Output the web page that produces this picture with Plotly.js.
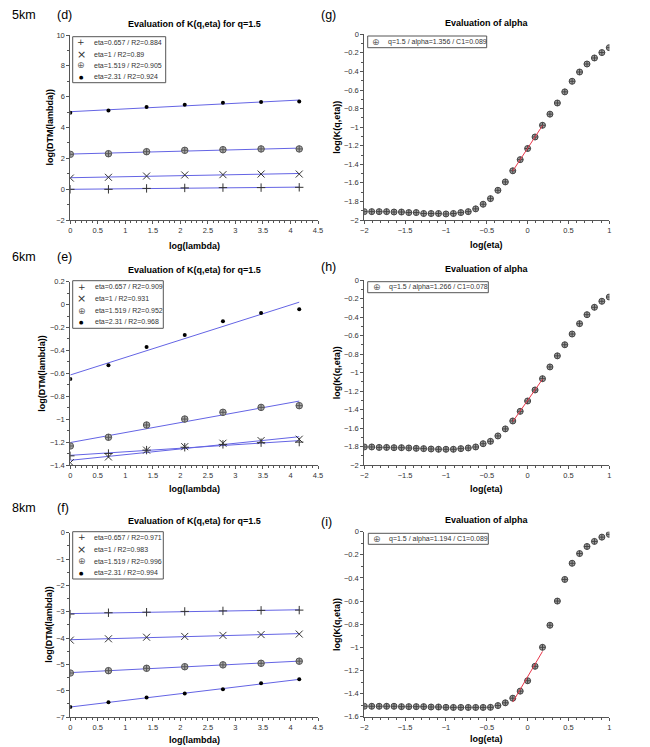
<!DOCTYPE html>
<html><head><meta charset="utf-8">
<script src="https://cdn.plot.ly/plotly-3.0.1.min.js"></script>
<style>html,body{margin:0;padding:0;background:#fff;}#chart{width:650px;height:747px;}</style>
</head><body><div id="chart"></div>
<script>
// ---------- data ----------
const logLambda = [0, 0.693, 1.386, 2.079, 2.773, 3.466, 4.159];
const etaLabels = ['eta=0.657', 'eta=1', 'eta=1.519', 'eta=2.31'];

// 5 km
const dtm5_eta0657 = [-0.01, -0.01, 0.05, 0.08, 0.10, 0.10, 0.12];
const dtm5_eta1    = [0.72, 0.77, 0.85, 0.92, 0.94, 0.98, 0.98];
const dtm5_eta1519 = [2.26, 2.30, 2.43, 2.52, 2.56, 2.61, 2.61];
const dtm5_eta231  = [4.96, 5.11, 5.33, 5.48, 5.61, 5.65, 5.68];
const r2_5km = ['0.884', '0.89', '0.905', '0.924'];

// 6 km
const dtm6_eta0657 = [-1.32, -1.30, -1.27, -1.245, -1.22, -1.205, -1.20];
const dtm6_eta1    = [-1.38, -1.33, -1.27, -1.24, -1.21, -1.187, -1.175];
const dtm6_eta1519 = [-1.234, -1.158, -1.051, -0.999, -0.940, -0.897, -0.882];
const dtm6_eta231  = [-0.65, -0.53, -0.37, -0.265, -0.146, -0.073, -0.041];
const r2_6km = ['0.909', '0.931', '0.952', '0.968'];

// 8 km
const dtm8_eta0657 = [-3.09, -3.04, -3.02, -2.99, -2.97, -2.95, -2.94];
const dtm8_eta1    = [-4.08, -4.03, -3.97, -3.94, -3.90, -3.87, -3.85];
const dtm8_eta1519 = [-5.33, -5.24, -5.15, -5.09, -5.02, -4.96, -4.88];
const dtm8_eta231  = [-6.62, -6.44, -6.26, -6.11, -5.95, -5.72, -5.57];
const r2_8km = ['0.971', '0.983', '0.996', '0.994'];

// alpha evaluation
const logEta = [-2, -1.909, -1.818, -1.727, -1.636, -1.545, -1.455, -1.364, -1.273, -1.182,
  -1.091, -1, -0.909, -0.818, -0.727, -0.636, -0.545, -0.455, -0.364, -0.273,
  -0.182, -0.091, 0, 0.091, 0.182, 0.273, 0.364, 0.455, 0.545, 0.636,
  0.727, 0.818, 0.909, 1];
const logK5 = [-1.91, -1.91, -1.91, -1.91, -1.914, -1.914, -1.92, -1.92, -1.93, -1.93,
  -1.93, -1.935, -1.93, -1.92, -1.91, -1.88, -1.83, -1.77, -1.68, -1.59,
  -1.47, -1.35, -1.23, -1.106, -0.98, -0.86, -0.74, -0.62, -0.506, -0.406,
  -0.32, -0.255, -0.197, -0.144];
const logK6 = [-1.805, -1.805, -1.81, -1.81, -1.813, -1.813, -1.816, -1.82, -1.823, -1.827,
  -1.83, -1.83, -1.83, -1.823, -1.816, -1.805, -1.77, -1.744, -1.686, -1.61,
  -1.524, -1.42, -1.308, -1.189, -1.067, -0.94, -0.82, -0.70, -0.584, -0.472,
  -0.375, -0.295, -0.23, -0.184];
const logK8 = [-1.51, -1.51, -1.51, -1.51, -1.51, -1.513, -1.513, -1.513, -1.513, -1.516,
  -1.516, -1.519, -1.52, -1.52, -1.52, -1.52, -1.52, -1.519, -1.504, -1.48,
  -1.44, -1.379, -1.289, -1.164, -1.00, -0.809, -0.60, -0.413, -0.273, -0.189,
  -0.128, -0.084, -0.047, -0.023];
const alphaFitRange = [-0.19, 0.19];
const alphaValues = ['1.356', '1.266', '1.194'];
const c1Values = ['0.089', '0.078', '0.089'];
const kmLabels = ['5km', '6km', '8km'];
const leftLetters = ['(d)', '(e)', '(f)'];
const rightLetters = ['(g)', '(h)', '(i)'];

// ---------- helpers ----------
const W = 650, H = 747;
const FONT = 'Liberation Sans, Arial, sans-serif';
const px = v => v / W;
const py = v => 1 - v / H;
const AXC = '#555';

function linfit(xs, ys) {
  const n = xs.length;
  const mx = xs.reduce((a, b) => a + b, 0) / n;
  const my = ys.reduce((a, b) => a + b, 0) / n;
  let sxy = 0, sxx = 0;
  for (let i = 0; i < n; i++) { sxy += (xs[i] - mx) * (ys[i] - my); sxx += (xs[i] - mx) ** 2; }
  const b = sxy / sxx;
  return { b: b, a: my - b * mx };
}

function axis(dom, range, dtick, minor, anchor) {
  return {
    domain: dom, range: range, anchor: anchor, dtick: dtick, tick0: 0,
    showline: true, linecolor: AXC, linewidth: 1, mirror: false,
    ticks: 'outside', ticklen: 3, tickwidth: 1, tickcolor: AXC,
    showgrid: false, zeroline: false, fixedrange: true,
    tickfont: { family: FONT, size: 7.5, color: '#333' },
    minor: { dtick: minor, tick0: 0, ticks: 'outside', ticklen: 2, tickcolor: AXC, showgrid: false }
  };
}

const markerStyles = [
  { symbol: 'cross-thin-open', size: 6, color: '#333', line: { color: '#333', width: 1 } },
  { symbol: 'x-thin-open', size: 7, color: '#333', line: { color: '#333', width: 1 } },
  { symbol: 'circle-cross', size: 6.5, color: '#aaa', line: { color: '#555', width: 1 } },
  { symbol: 'circle', size: 4, color: '#000', line: { width: 0 } }
];
const legendGlyphs = [
  { t: '+', c: '#333', s: 9 },
  { t: '×', c: '#333', s: 11 },
  { t: '⊕', c: '#666', s: 9 },
  { t: '●', c: '#000', s: 5 }
];
const BLUE = 'rgb(100,100,228)';
const RED = 'rgb(232,55,75)';

const traces = [];
const shapes = [];
const annotations = [];

function txt(text, x, y, size, opts) {
  annotations.push(Object.assign({
    text: text, x: px(x), y: py(y), xref: 'paper', yref: 'paper',
    showarrow: false, xanchor: 'center', yanchor: 'middle',
    font: { family: FONT, size: size, color: '#000' }
  }, opts || {}));
}

// ---------- K(q,eta) panels ----------
const kPanels = [
  { series: [dtm5_eta0657, dtm5_eta1, dtm5_eta1519, dtm5_eta231], r2: r2_5km, xa: 'x', ya: 'y',
    top: 35, bot: 220, range: [-2, 10], dtick: 2, minor: 1,
    leg: { x0: 72.7, x1: 165.7, y0: 36.7, y1: 82.7, ys: [42.3, 54, 65.3, 77], sx: 81, tx: 91.7 },
    titleY: 24.3, xtY: 245.7, ytX: 49, labY: 15 },
  { series: [dtm6_eta0657, dtm6_eta1, dtm6_eta1519, dtm6_eta231], r2: r2_6km, xa: 'x3', ya: 'y3',
    top: 281.7, bot: 465, range: [-1.4, 0.2], dtick: 0.2, minor: 0.1,
    leg: { x0: 72.7, x1: 163.3, y0: 280.7, y1: 328.3, ys: [286.7, 298.7, 310.7, 321.7], sx: 81.7, tx: 92.7 },
    titleY: 270, xtY: 489.3, ytX: 42.5, labY: 257 },
  { series: [dtm8_eta0657, dtm8_eta1, dtm8_eta1519, dtm8_eta231], r2: r2_8km, xa: 'x5', ya: 'y5',
    top: 532.7, bot: 717, range: [-7, 0], dtick: 1, minor: 0.5,
    leg: { x0: 72.7, x1: 163.3, y0: 531.7, y1: 579, ys: [537.3, 549, 561, 572.7], sx: 81.7, tx: 91.7 },
    titleY: 520.7, xtY: 740, ytX: 49, labY: 507.5 }
];

const layout = {
  width: W, height: H, margin: { l: 0, r: 0, t: 0, b: 0 },
  paper_bgcolor: '#fff', plot_bgcolor: '#fff', showlegend: false,
  font: { family: FONT }
};

const KX0 = 70.3, KX1 = 318;
const AX0 = 364.3, AX1 = 609.3;

kPanels.forEach((p, idx) => {
  const xn = p.xa === 'x' ? 'xaxis' : 'xaxis' + p.xa.slice(1);
  const yn = p.ya === 'y' ? 'yaxis' : 'yaxis' + p.ya.slice(1);
  layout[xn] = axis([px(KX0), px(KX1)], [0, 4.5], 0.5, 0.1, p.ya);
  layout[yn] = axis([py(p.bot), py(p.top)], p.range, p.dtick, p.minor, p.xa);
  p.series.forEach((ys, i) => {
    const f = linfit(logLambda, ys);
    const x0 = logLambda[0], x1 = logLambda[logLambda.length - 1];
    traces.push({ type: 'scatter', mode: 'lines', x: [x0, x1], y: [f.a + f.b * x0, f.a + f.b * x1],
      xaxis: p.xa, yaxis: p.ya, line: { color: BLUE, width: 1 }, hoverinfo: 'skip' });
  });
  p.series.forEach((ys, i) => {
    traces.push({ type: 'scatter', mode: 'markers', x: logLambda, y: ys, name: etaLabels[i] + ' / R2=' + p.r2[i],
      xaxis: p.xa, yaxis: p.ya, marker: markerStyles[i], cliponaxis: true });
  });
  const L = p.leg;
  shapes.push({ type: 'rect', xref: 'paper', yref: 'paper', x0: px(L.x0), x1: px(L.x1), y0: py(L.y1), y1: py(L.y0),
    line: { color: '#555', width: 1 }, fillcolor: '#fff', layer: 'above' });
  L.ys.forEach((yy, i) => {
    const g = legendGlyphs[i];
    txt(g.t, L.sx, yy, g.s, { font: { family: 'DejaVu Sans, ' + FONT, size: g.s, color: g.c } });
    txt(etaLabels[i] + ' / R2=' + p.r2[i], L.tx, yy, 7, { xanchor: 'left', font: { family: FONT, size: 7, color: '#333' } });
  });
  txt('<b>Evaluation of K(q,eta) for q=1.5</b>', (KX0 + KX1) / 2, p.titleY, 9);
  txt('<b>log(lambda)</b>', (KX0 + KX1) / 2, p.xtY, 9);
  txt('<b>log(DTM(lambda))</b>', p.ytX, (p.top + p.bot) / 2, 9, { textangle: -90 });
  txt(kmLabels[idx], 10, p.labY, 12.5, { xanchor: 'left' });
  txt(leftLetters[idx], 55, p.labY, 12.5, { xanchor: 'left' });
});

// ---------- alpha panels ----------
const aPanels = [
  { y: logK5, xa: 'x2', ya: 'y2', top: 34.3, bot: 220, range: [-2, 0],
    leg: { x0: 367.7, x1: 486.7, y0: 36, y1: 47.7, ym: 41.7, sx: 376, tx: 386 },
    titleY: 23.3, xtY: 245, labY: 15 },
  { y: logK6, xa: 'x4', ya: 'y4', top: 280, bot: 465, range: [-2, 0],
    leg: { x0: 367.7, x1: 488.3, y0: 281.7, y1: 292.7, ym: 287, sx: 377.3, tx: 386.7 },
    titleY: 269, xtY: 489.3, labY: 267 },
  { y: logK8, xa: 'x6', ya: 'y6', top: 531.7, bot: 716.7, range: [-1.6, 0],
    leg: { x0: 368.3, x1: 488.3, y0: 533.3, y1: 544.3, ym: 538.8, sx: 377.3, tx: 386.7 },
    titleY: 520, xtY: 739.3, labY: 521.5 }
];

aPanels.forEach((p, idx) => {
  const xn = 'xaxis' + p.xa.slice(1);
  const yn = 'yaxis' + p.ya.slice(1);
  layout[xn] = axis([px(AX0), px(AX1)], [-2, 1], 0.5, 0.1, p.ya);
  layout[yn] = axis([py(p.bot), py(p.top)], p.range, 0.2, 0.1, p.xa);
  const fx = [], fy = [];
  logEta.forEach((x, i) => { if (x >= alphaFitRange[0] && x <= alphaFitRange[1]) { fx.push(x); fy.push(p.y[i]); } });
  const f = linfit(fx, fy);
  const label = 'q=1.5 / alpha=' + alphaValues[idx] + ' / C1=' + c1Values[idx];
  traces.push({ type: 'scatter', mode: 'markers', x: logEta, y: p.y, name: label, xaxis: p.xa, yaxis: p.ya,
    marker: { symbol: 'circle-cross', size: 6, color: '#a0a0a0', line: { color: '#444', width: 1 } }, cliponaxis: true });
  traces.push({ type: 'scatter', mode: 'lines', x: [fx[0], fx[fx.length - 1]],
    y: [f.a + f.b * fx[0], f.a + f.b * fx[fx.length - 1]], xaxis: p.xa, yaxis: p.ya,
    line: { color: RED, width: 1 }, hoverinfo: 'skip' });
  const L = p.leg;
  shapes.push({ type: 'rect', xref: 'paper', yref: 'paper', x0: px(L.x0), x1: px(L.x1), y0: py(L.y1), y1: py(L.y0),
    line: { color: '#555', width: 1 }, fillcolor: '#fff', layer: 'above' });
  txt('⊕', L.sx, L.ym, 9, { font: { family: 'DejaVu Sans, ' + FONT, size: 9, color: '#666' } });
  txt(label, L.tx, L.ym, 7, { xanchor: 'left', font: { family: FONT, size: 7, color: '#333' } });
  txt('<b>Evaluation of alpha</b>', (AX0 + AX1) / 2, p.titleY, 9);
  txt('<b>log(eta)</b>', (AX0 + AX1) / 2, p.xtY, 9);
  txt('<b>log(K(q,eta))</b>', 336.7, (p.top + p.bot) / 2, 9, { textangle: -90 });
  txt(rightLetters[idx], 318.5, p.labY, 12.5, { xanchor: 'left' });
});

layout.shapes = shapes;
layout.annotations = annotations;

Plotly.newPlot('chart', traces, layout, { staticPlot: true, displayModeBar: false });
</script>
</body></html>
